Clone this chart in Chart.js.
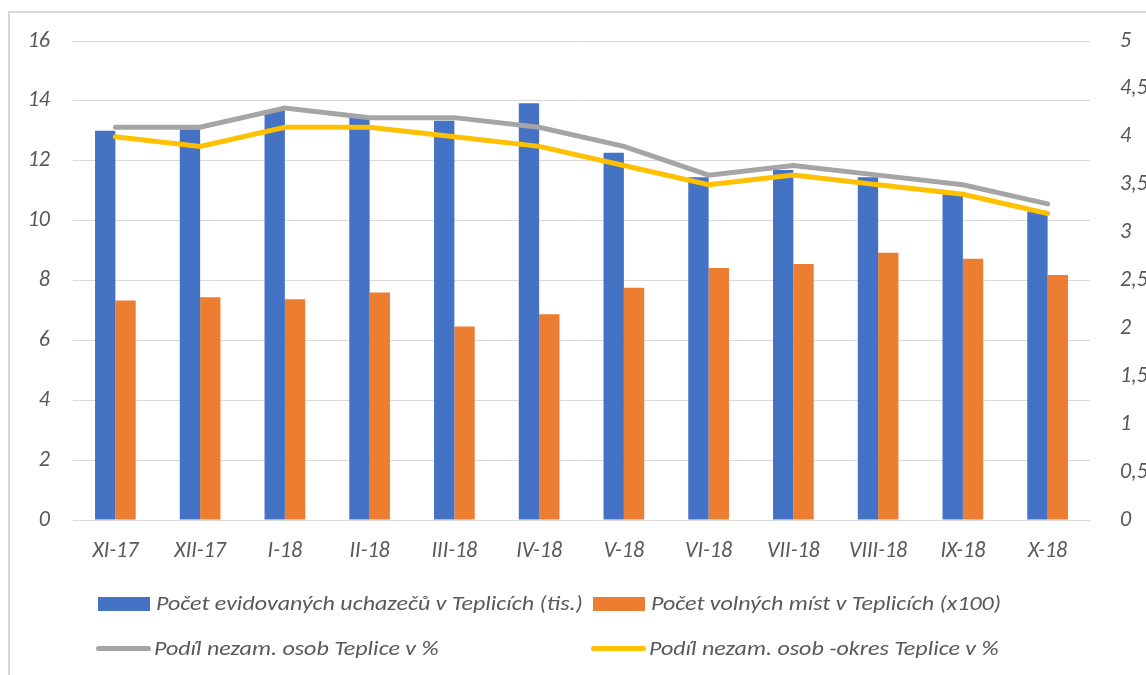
<!DOCTYPE html>
<html>
<head>
<meta charset="utf-8">
<script src="https://cdn.jsdelivr.net/npm/chart.js@4"></script>
<style>
  body { margin: 0; background: #fff; overflow: hidden; }
  #wrap { position: relative; width: 1146px; height: 675px; overflow: hidden; }
  #frame { position: absolute; left: 8px; top: 11px; width: 1200px; height: 700px;
           border-left: 2px solid #d9d9d9; border-top: 2px solid #d9d9d9; pointer-events: none; }
  .lg { position: absolute; font: italic 20px Carlito, Lato, sans-serif; color: #595959; white-space: nowrap;
        transform: scaleX(1.2); transform-origin: left center; }
  .sw { position: absolute; }
</style>
</head>
<body>
<div id="wrap">
  <canvas id="myChart" width="1146" height="675"></canvas>
  <div id="frame"></div>
  <div id="legend"></div>
</div>
<script>
const months = ['XI-17', 'XII-17', 'I-18', 'II-18', 'III-18', 'IV-18', 'V-18', 'VI-18', 'VII-18', 'VIII-18', 'IX-18', 'X-18'];
const uchazeci = [13.0, 13.05, 13.67, 13.44, 13.34, 13.92, 12.27, 11.45, 11.69, 11.45, 10.88, 10.30];
const volnaMista = [7.33, 7.44, 7.37, 7.6, 6.46, 6.87, 7.76, 8.42, 8.55, 8.93, 8.73, 8.18];
const podilTeplice = [4.1, 4.1, 4.3, 4.2, 4.2, 4.1, 3.9, 3.6, 3.7, 3.6, 3.5, 3.3];
const podilOkres = [4.0, 3.9, 4.1, 4.1, 4.0, 3.9, 3.7, 3.5, 3.6, 3.5, 3.4, 3.2];

const names = [
    'Počet evidovaných uchazečů v Teplicích (tis.)',
    'Počet volných míst v Teplicích (x100)',
    'Podíl nezam. osob Teplice v %',
    'Podíl nezam. osob -okres Teplice v %',
];
const colors = ['#4472c4', '#ed7d31', '#a5a5a5', '#ffc000'];

const font = { family: 'Carlito, Lato, sans-serif', size: 22, style: 'italic' };
const ctx = document.getElementById('myChart').getContext('2d');

const config = {
    type: 'bar',
    data: {
        labels: months,
        datasets: [
            { label: names[0], data: uchazeci, backgroundColor: colors[0], yAxisID: 'y', order: 2,
              categoryPercentage: 0.48, barPercentage: 1.0 },
            { label: names[1], data: volnaMista, backgroundColor: colors[1], yAxisID: 'y', order: 2,
              categoryPercentage: 0.48, barPercentage: 1.0 },
            { type: 'line', label: names[2], data: podilTeplice, borderColor: colors[2], borderWidth: 5,
              pointRadius: 0, borderCapStyle: 'round', yAxisID: 'y1', order: 1, fill: false },
            { type: 'line', label: names[3], data: podilOkres, borderColor: colors[3], borderWidth: 5,
              pointRadius: 0, borderCapStyle: 'round', yAxisID: 'y1', order: 0, fill: false },
        ],
    },
    options: {
        responsive: false,
        animation: false,
        layout: { padding: { top: 41, bottom: 105, left: 0, right: 0 } },
        plugins: { legend: { display: false }, tooltip: { enabled: false } },
        scales: {
            x: {
                grid: { display: false },
                border: { color: '#d9d9d9' },
                ticks: { font: font, color: '#595959', padding: 10 },
                afterFit: (s) => { s.height = 50; },
            },
            y: {
                position: 'left',
                min: 0, max: 16,
                ticks: { stepSize: 2, font: font, color: '#595959', padding: 23 },
                grid: { color: '#d9d9d9', drawTicks: false },
                border: { display: false },
                afterFit: (s) => { s.width = 73; },
            },
            y1: {
                position: 'right',
                min: 0, max: 5,
                ticks: { stepSize: 0.5, font: font, color: '#595959', padding: 22,
                         callback: (v) => String(v).replace('.', ',') },
                grid: { display: false },
                border: { display: false },
                afterFit: (s) => { s.width = 56; },
            },
        },
    },
};

const chart = new Chart(ctx, config);

// legend in two fixed columns like the original
const legend = document.getElementById('legend');
const cells = [
    { x: 98, y: 604, kind: 'box' },
    { x: 593, y: 604, kind: 'box' },
    { x: 96, y: 649, kind: 'line' },
    { x: 591, y: 649, kind: 'line' },
];
cells.forEach((c, i) => {
    const sw = document.createElement('div');
    sw.className = 'sw';
    if (c.kind === 'box') {
        sw.style.cssText = `left:${c.x}px;top:${c.y - 7}px;width:52px;height:14px;background:${colors[i]}`;
    } else {
        sw.style.cssText = `left:${c.x}px;top:${c.y - 3}px;width:55px;height:5px;border-radius:3px;background:${colors[i]}`;
    }
    legend.appendChild(sw);
    const t = document.createElement('div');
    t.className = 'lg';
    t.textContent = names[i];
    t.style.left = (c.x + 58) + 'px';
    t.style.top = (c.y - 13) + 'px';
    legend.appendChild(t);
});
</script>
</body>
</html>
